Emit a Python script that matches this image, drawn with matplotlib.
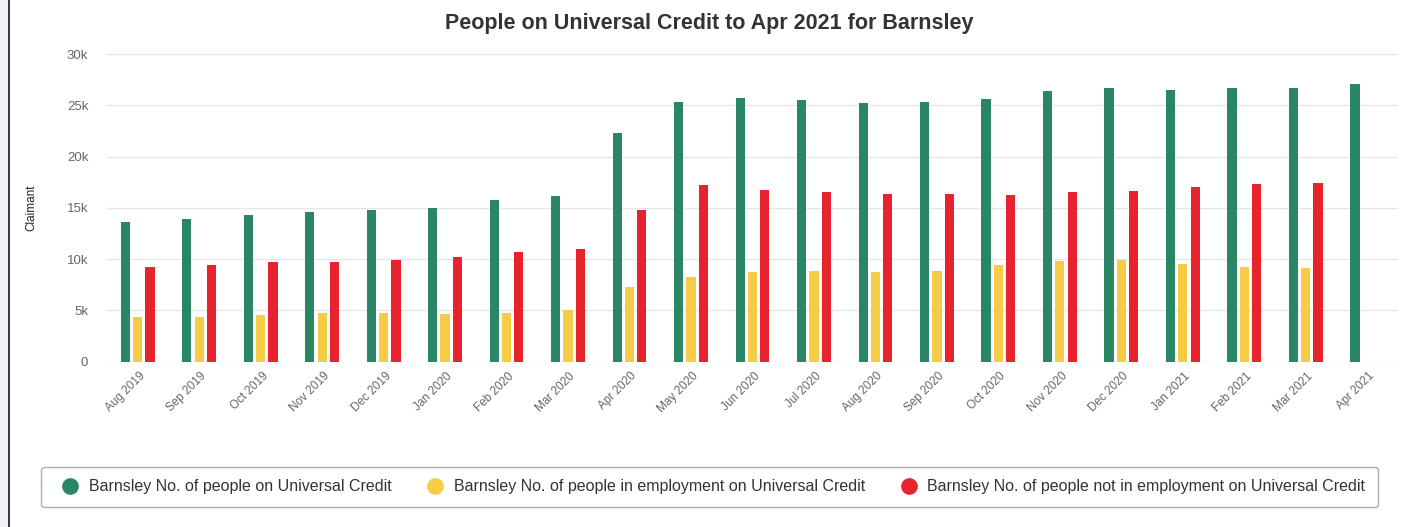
import numpy as np
import matplotlib.pyplot as plt
from matplotlib.patches import Rectangle
from matplotlib.lines import Line2D
from matplotlib.ticker import FuncFormatter

plt.rcParams['font.family'] = ['Liberation Sans', 'DejaVu Sans']

# monthly claimant counts for Barnsley
months = ['Aug 2019', 'Sep 2019', 'Oct 2019', 'Nov 2019', 'Dec 2019', 'Jan 2020',
          'Feb 2020', 'Mar 2020', 'Apr 2020', 'May 2020', 'Jun 2020', 'Jul 2020',
          'Aug 2020', 'Sep 2020', 'Oct 2020', 'Nov 2020', 'Dec 2020', 'Jan 2021',
          'Feb 2021', 'Mar 2021', 'Apr 2021']
total = [13600, 13890, 14290, 14550, 14810, 14940, 15720, 16140, 22340, 25340,
         25730, 25470, 25210, 25340, 25600, 26390, 26650, 26520, 26650, 26650, 27040]
in_work = [4310, 4400, 4570, 4790, 4790, 4660, 4790, 5060, 7270, 8220,
           8770, 8870, 8740, 8870, 9390, 9850, 9950, 9490, 9230, 9130, np.nan]
not_in_work = [9260, 9430, 9690, 9690, 9950, 10210, 10730, 10990, 14810, 17190,
               16760, 16540, 16370, 16370, 16240, 16540, 16630, 17060, 17320, 17450, np.nan]

labels = ['Barnsley No. of people on Universal Credit',
          'Barnsley No. of people in employment on Universal Credit',
          'Barnsley No. of people not in employment on Universal Credit']
colors = ['#2a8667', '#f6cb45', '#e8232e']

fig = plt.figure(figsize=(14.11, 5.27), dpi=100)
ax = fig.add_axes([0.0758, 0.3137, 0.915, 0.5838])

x = np.arange(len(months))
w = 0.15
for off, vals, c in zip([-0.2, 0.0, 0.2], [total, in_work, not_in_work], colors):
    ax.bar(x + off, vals, width=w, color=c, zorder=3)

ax.set_xlim(-0.5, len(months) - 0.5)
ax.set_ylim(0, 30000)
ax.set_yticks(np.arange(0, 30001, 5000))
ax.yaxis.set_major_formatter(FuncFormatter(lambda v, p: '0' if v == 0 else '%dk' % (v / 1000)))
ax.grid(axis='y', color='#e6e6e6', linewidth=1, zorder=0)
for s in ax.spines.values():
    s.set_visible(False)
ax.tick_params(axis='both', length=0, labelcolor='#666666')
ax.tick_params(axis='y', pad=13.5, labelsize=9.5)
ax.set_xticks(x + 0.02)
ax.set_xticklabels(months, rotation=45, ha='right', rotation_mode='anchor')
ax.tick_params(axis='x', pad=6, labelsize=8.5)
ax.set_ylabel('Claimant', fontsize=8.5, color='#222222', labelpad=21)

fig.text(0.503, 0.955, 'People on Universal Credit to Apr 2021 for Barnsley',
         ha='center', va='center', fontsize=15.5, fontweight='bold', color='#333333')

handles = [Line2D([], [], marker='o', linestyle='none', markersize=11,
                  markerfacecolor=c, markeredgecolor=c) for c in colors]
leg = fig.legend(handles, labels, loc='center', bbox_to_anchor=(0.503, 0.076),
                 ncol=3, fontsize=11.5, frameon=True, fancybox=True,
                 edgecolor='#999999', handletextpad=0.15, columnspacing=1.75,
                 borderpad=0.8, labelcolor='#333333')
leg.get_frame().set_linewidth(1)

# page edge on the left
fig.patches.append(Rectangle((0, 0), 8 / 1411, 1, transform=fig.transFigure,
                             facecolor='#f1f1f1', edgecolor='none'))
fig.patches.append(Rectangle((8 / 1411, 0), 1.5 / 1411, 1, transform=fig.transFigure,
                             facecolor='#3b3450', edgecolor='none'))

fig.savefig('out.png', dpi=100)
